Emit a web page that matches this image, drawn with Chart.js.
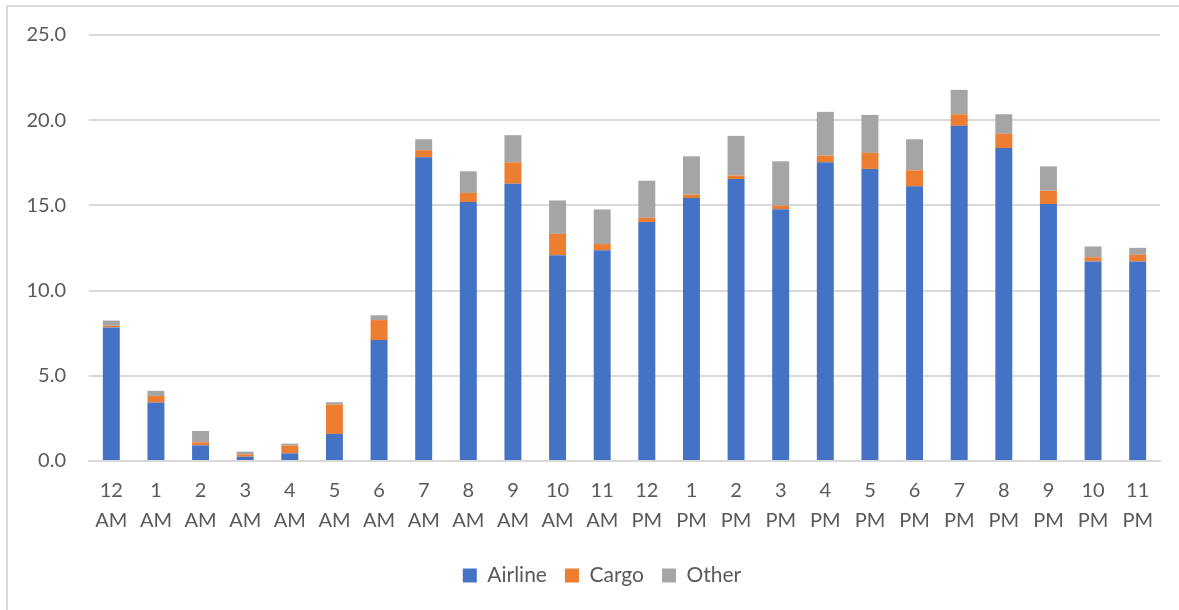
<!DOCTYPE html>
<html>
<head>
<meta charset="utf-8">
<script src="https://cdn.jsdelivr.net/npm/chart.js@4/dist/chart.umd.min.js"></script>
<style>
    html, body { margin: 0; padding: 0; background: #fff; }
    .frame { position: absolute; left: 6px; top: 5px; width: 1200px; height: 640px; border-left: 2px solid #d9d9d9; border-top: 2px solid #d9d9d9; }
    canvas { position: absolute; left: 0; top: 0; }
</style>
</head>
<body>
<div class="frame"></div>
<canvas id="chart" width="1179" height="610"></canvas>
<script>
const hours = ['12', '1', '2', '3', '4', '5', '6', '7', '8', '9', '10', '11', '12', '1', '2', '3', '4', '5', '6', '7', '8', '9', '10', '11'];
const periods = ['AM', 'AM', 'AM', 'AM', 'AM', 'AM', 'AM', 'AM', 'AM', 'AM', 'AM', 'AM', 'PM', 'PM', 'PM', 'PM', 'PM', 'PM', 'PM', 'PM', 'PM', 'PM', 'PM', 'PM'];
const airline = [7.84, 3.43, 0.92, 0.25, 0.45, 1.59, 7.1, 17.82, 15.2, 16.27, 12.08, 12.37, 14.02, 15.43, 16.55, 14.78, 17.53, 17.14, 16.12, 19.67, 18.37, 15.08, 11.71, 11.71];
const cargo = [0.1, 0.39, 0.18, 0.14, 0.45, 1.72, 1.17, 0.42, 0.53, 1.26, 1.25, 0.36, 0.25, 0.2, 0.2, 0.2, 0.39, 0.94, 0.94, 0.68, 0.83, 0.78, 0.25, 0.39];
const other = [0.3, 0.3, 0.66, 0.16, 0.12, 0.14, 0.28, 0.64, 1.27, 1.59, 1.96, 2.03, 2.18, 2.25, 2.33, 2.61, 2.57, 2.23, 1.82, 1.43, 1.15, 1.43, 0.63, 0.41];
const yTicks = [0, 5, 10, 15, 20, 25];

Chart.defaults.font.family = 'Lato, "Open Sans", sans-serif';
Chart.defaults.font.size = 20;
Chart.defaults.color = '#595959';

const bar = { barPercentage: 0.38, categoryPercentage: 1, borderWidth: 0 };

// the legend in the original sits a little right of centre
const nudgeLegend = {
    id: 'nudgeLegend',
    afterLayout(chart) {
        chart.legend.left += 22;
        chart.legend.right += 22;
    },
};

new Chart(document.getElementById('chart'), {
    type: 'bar',
    data: {
        labels: hours.map((h, i) => [h, periods[i]]),
        datasets: [
            { label: 'Airline', data: airline, backgroundColor: '#4472c4', ...bar },
            { label: 'Cargo', data: cargo, backgroundColor: '#ed7d31', ...bar },
            { label: 'Other', data: other, backgroundColor: '#a5a5a5', ...bar },
        ],
    },
    plugins: [nudgeLegend],
    options: {
        responsive: false,
        animation: false,
        layout: { padding: { left: 0, right: 19, top: 35, bottom: 14 } },
        plugins: {
            tooltip: { enabled: false },
            legend: {
                position: 'bottom',
                labels: { boxWidth: 14, boxHeight: 14, padding: 18, font: { size: 21 }, color: '#595959' },
            },
        },
        scales: {
            x: {
                stacked: true,
                grid: { display: false, drawTicks: false },
                border: { color: '#d9d9d9', width: 2 },
                ticks: { padding: 15, maxRotation: 0, autoSkip: false, font: { size: 20, lineHeight: 1.5 } },
                afterFit: (s) => { s.height = 86; },
            },
            y: {
                stacked: true,
                min: 0,
                max: 25,
                grid: { color: '#d9d9d9', lineWidth: 2, drawTicks: false },
                border: { display: false },
                afterBuildTicks: (s) => { s.ticks = yTicks.map(v => ({ value: v })); },
                ticks: { padding: 23, callback: (v) => Number(v).toFixed(1), font: { size: 20 } },
                afterFit: (s) => { s.width = 89; },
            },
        },
    },
});
</script>
</body>
</html>
